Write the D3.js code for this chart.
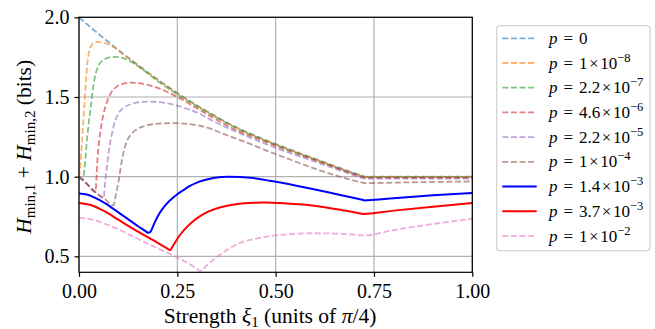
<!DOCTYPE html>
<html><head><meta charset="utf-8">
<script src="https://cdn.jsdelivr.net/npm/d3@7"></script>
<style>body{margin:0;background:#fff} svg{display:block}</style>
</head><body><svg id="chart" width="655" height="329"></svg>
<script>
// ---------- data ----------
const xTicks = [0, 0.25, 0.5, 0.75, 1.0];
const yTicks = [0.5, 1.0, 1.5, 2.0];

const pMant = ["0", "1", "2.2", "4.6", "2.2", "1", "1.4", "3.7", "1"];
const pExp  = [null, "8", "7", "6", "5", "4", "3", "3", "2"];

const xP0 = [0,0.05,0.1,0.15,0.2,0.25,0.3,0.35,0.4,0.45,0.5,0.55,0.6,0.65,0.7,0.72,0.727,0.735,0.8,0.9,1.0];
const yP0 = [2.0,1.895,1.795,1.70,1.61,1.525,1.447,1.375,1.31,1.255,1.205,1.158,1.112,1.067,1.022,1.0065,1.0,1.0,1.0,1.0,1.0];

const xP1 = [0,0.003,0.006,0.01,0.0145,0.018,0.0205,0.024,0.029,0.035,0.042,0.05,0.06,0.07,0.08,0.09,0.1,0.125,0.15,0.2,0.25,0.3,0.35,0.4,0.5,0.6,0.7,0.72,0.727,0.735,1.0];
const yP1 = [1.0,1.06,1.16,1.31,1.48,1.61,1.69,1.76,1.81,1.835,1.845,1.846,1.842,1.835,1.825,1.81,1.792,1.744,1.697,1.607,1.522,1.445,1.373,1.308,1.203,1.11,1.02,1.004,0.998,0.998,0.998];

const xP2 = [0,0.005,0.0105,0.013,0.016,0.0203,0.025,0.0305,0.037,0.043,0.05,0.058,0.065,0.075,0.085,0.095,0.11,0.13,0.16,0.2,0.25,0.3,0.35,0.4,0.5,0.6,0.7,0.72,0.727,0.735,1.0];
const yP2 = [1.0,0.99,0.983,1.03,1.11,1.23,1.34,1.45,1.58,1.65,1.70,1.725,1.737,1.747,1.752,1.752,1.745,1.725,1.675,1.600,1.516,1.441,1.370,1.305,1.200,1.108,1.018,1.002,0.997,0.997,0.997];

const xP3 = [0,0.02,0.042,0.0445,0.047,0.051,0.056,0.062,0.07,0.08,0.096,0.115,0.134,0.16,0.2,0.25,0.3,0.35,0.4,0.45,0.5,0.6,0.7,0.72,0.727,0.735,1.0];
const yP3 = [1.0,0.955,0.903,1.0,1.11,1.22,1.31,1.39,1.46,1.52,1.565,1.585,1.59,1.584,1.557,1.50,1.428,1.357,1.292,1.242,1.193,1.103,1.015,0.998,0.993,0.993,0.993];

const xP4 = [0,0.02,0.042,0.063,0.0655,0.068,0.071,0.077,0.084,0.092,0.101,0.115,0.135,0.155,0.177,0.2,0.25,0.3,0.35,0.4,0.45,0.5,0.6,0.7,0.72,0.727,0.735,1.0];
const yP4 = [1.0,0.955,0.903,0.866,0.94,1.0,1.064,1.18,1.273,1.35,1.40,1.435,1.457,1.468,1.471,1.468,1.445,1.402,1.338,1.282,1.23,1.18,1.095,1.008,0.992,0.988,0.988,0.988];

const xP5 = [0,0.02,0.042,0.063,0.088,0.092,0.097,0.101,0.105,0.109,0.115,0.122,0.132,0.147,0.17,0.194,0.22,0.245,0.28,0.33,0.371,0.42,0.486,0.55,0.6,0.65,0.7,0.72,0.727,0.735,0.85,1.0];
const yP5 = [1.0,0.955,0.903,0.866,0.82,0.865,0.925,0.975,1.04,1.10,1.17,1.225,1.265,1.298,1.32,1.331,1.335,1.336,1.33,1.305,1.265,1.22,1.155,1.095,1.05,1.01,0.975,0.963,0.96,0.96,0.965,0.97];

const xP6 = [0,0.02,0.04,0.067,0.1,0.13,0.152,0.165,0.171,0.176,0.181,0.186,0.192,0.2,0.21,0.222,0.236,0.25,0.265,0.282,0.3,0.32,0.345,0.38,0.41,0.443,0.486,0.55,0.6,0.65,0.7,0.72,0.727,0.735,0.8,0.9,1.0];
const yP6 = [0.895,0.888,0.868,0.832,0.776,0.724,0.686,0.665,0.655,0.648,0.652,0.675,0.71,0.75,0.79,0.828,0.862,0.89,0.915,0.942,0.963,0.979,0.993,1.0,0.998,0.991,0.974,0.945,0.92,0.893,0.866,0.855,0.851,0.852,0.865,0.883,0.897];

const xP7 = [0,0.03,0.067,0.1,0.15,0.2,0.226,0.232,0.237,0.245,0.255,0.268,0.285,0.305,0.33,0.36,0.39,0.42,0.45,0.47,0.52,0.57,0.62,0.67,0.7,0.718,0.722,0.8,0.9,1.0];
const yP7 = [0.835,0.822,0.78,0.73,0.655,0.585,0.547,0.538,0.558,0.59,0.628,0.668,0.71,0.748,0.782,0.808,0.824,0.833,0.837,0.838,0.834,0.825,0.81,0.79,0.777,0.768,0.766,0.787,0.812,0.835];

const xP8 = [0,0.03,0.067,0.1,0.152,0.2,0.236,0.262,0.285,0.3,0.308,0.314,0.325,0.342,0.36,0.376,0.395,0.418,0.45,0.494,0.55,0.596,0.65,0.7,0.725,0.8,0.9,1.0];
const yP8 = [0.741,0.733,0.703,0.67,0.607,0.55,0.51,0.478,0.445,0.42,0.408,0.418,0.443,0.479,0.513,0.54,0.568,0.592,0.612,0.63,0.641,0.645,0.643,0.636,0.631,0.665,0.703,0.736];

const seriesX = [xP0, xP1, xP2, xP3, xP4, xP5, xP6, xP7, xP8];
const seriesY = [yP0, yP1, yP2, yP3, yP4, yP5, yP6, yP7, yP8];

// ---------- styles ----------
const colors = ["#1f77b4","#ff7f0e","#2ca02c","#d62728","#9467bd","#8c564b","#0000ff","#ff0000","#e377c2"];
const dashed = [true,true,true,true,true,true,false,false,true];
const FONT = '"Liberation Serif", "Times New Roman", serif';

const svg = d3.select("#chart");
const L = 79, R = 472.3, T = 17.3, B = 272.3;
const x = d3.scaleLinear().domain([0, 1]).range([L, R]);
const y = d3.scaleLinear().domain([0.4, 2.0]).range([B, T]);

// grid
const grid = svg.append("g");
grid.selectAll("line.gx").data(xTicks).join("line")
  .attr("x1", d => x(d)).attr("x2", d => x(d)).attr("y1", T).attr("y2", B)
  .attr("stroke", "#b0b0b0").attr("stroke-width", 1.2);
grid.selectAll("line.gy").data(yTicks).join("line")
  .attr("y1", d => y(d)).attr("y2", d => y(d)).attr("x1", L).attr("x2", R)
  .attr("stroke", "#b0b0b0").attr("stroke-width", 1.2);

// clip
svg.append("clipPath").attr("id", "clip").append("rect")
  .attr("x", L).attr("y", T - 2).attr("width", R - L).attr("height", B - T + 2);

const line = d3.line().x(d => x(d[0])).y(d => y(d[1])).curve(d3.curveMonotoneX);
const plot = svg.append("g").attr("clip-path", "url(#clip)");
seriesX.forEach((xs, i) => {
  const pts = xs.map((v, k) => [v, seriesY[i][k]]);
  plot.append("path").attr("d", line(pts))
    .attr("fill", "none")
    .attr("stroke", colors[i])
    .attr("stroke-width", dashed[i] ? 1.8 : 2)
    .attr("stroke-opacity", dashed[i] ? 0.6 : 1)
    .attr("stroke-dasharray", dashed[i] ? "6,2.6" : null)
    .attr("stroke-linejoin", "round");
});

// spines
svg.append("rect").attr("x", L).attr("y", T).attr("width", R - L).attr("height", B - T)
  .attr("fill", "none").attr("stroke", "#000").attr("stroke-width", 1.2);

// axes
const ax = svg.append("g").attr("transform", `translate(0,${B})`)
  .call(d3.axisBottom(x).tickValues(xTicks).tickFormat(d3.format(".2f")).tickSize(4.5).tickPadding(7));
const ay = svg.append("g").attr("transform", `translate(${L},0)`)
  .call(d3.axisLeft(y).tickValues(yTicks).tickFormat(d3.format(".1f")).tickSize(4.5).tickPadding(5));
[ax, ay].forEach(g => {
  g.attr("font-family", null);
  g.select(".domain").remove();
  g.selectAll(".tick line").attr("stroke", "#000").attr("stroke-width", 1.2);
  g.selectAll(".tick text").style("font-family", FONT).attr("font-size", 20).attr("fill", "#000");
});

// x label
const xl = svg.append("text").attr("x", 270).attr("y", 323)
  .attr("text-anchor", "middle").style("font-family", FONT).attr("font-size", 21.5).attr("fill", "#000");
xl.append("tspan").text("Strength ");
xl.append("tspan").attr("font-style", "italic").text("ξ");
xl.append("tspan").attr("font-size", 15).attr("dy", 4).text("1");
xl.append("tspan").attr("dy", -4).text(" (units of ");
xl.append("tspan").attr("font-style", "italic").text("π");
xl.append("tspan").text("/4)");

// y label
const yl = svg.append("text").attr("transform", `translate(31,${(T + B) / 2 + 2}) rotate(-90)`)
  .attr("text-anchor", "middle").style("font-family", FONT).attr("font-size", 21.5).attr("fill", "#000");
yl.append("tspan").attr("font-style", "italic").text("H");
yl.append("tspan").attr("font-size", 15).attr("dy", 4).text("min,1");
yl.append("tspan").attr("dy", -4).text(" + ");
yl.append("tspan").attr("font-style", "italic").text("H");
yl.append("tspan").attr("font-size", 15).attr("dy", 4).text("min,2");
yl.append("tspan").attr("dy", -4).text(" (bits)");

// legend
const lg = svg.append("g");
lg.append("rect").attr("x", 496.7).attr("y", 25.7).attr("width", 153.3).attr("height", 225)
  .attr("rx", 3).attr("fill", "#fff").attr("fill-opacity", 0.8).attr("stroke", "#cccccc").attr("stroke-width", 1.1);
pMant.forEach((m, i) => {
  const cy = 38.3 + 24.7 * i;
  lg.append("line").attr("x1", 502.3).attr("x2", 536.7).attr("y1", cy).attr("y2", cy)
    .attr("stroke", colors[i]).attr("stroke-width", dashed[i] ? 1.8 : 2)
    .attr("stroke-opacity", dashed[i] ? 0.6 : 1)
    .attr("stroke-dasharray", dashed[i] ? "6,2.6" : null);
  const t = lg.append("text").attr("x", 549).attr("y", cy + 5.6)
    .style("font-family", FONT).attr("font-size", 17).attr("fill", "#000");
  t.append("tspan").attr("font-style", "italic").text("p");
  t.append("tspan").attr("dx", 6).text("=");
  t.append("tspan").attr("dx", 6).text(m);
  if (pExp[i] !== null) {
    t.append("tspan").attr("dx", 1.5).text("×");
    t.append("tspan").attr("dx", 1.5).text("10");
    t.append("tspan").attr("font-size", 12.5).attr("dy", -7).text("−" + pExp[i]);
  }
});
</script></body></html>
